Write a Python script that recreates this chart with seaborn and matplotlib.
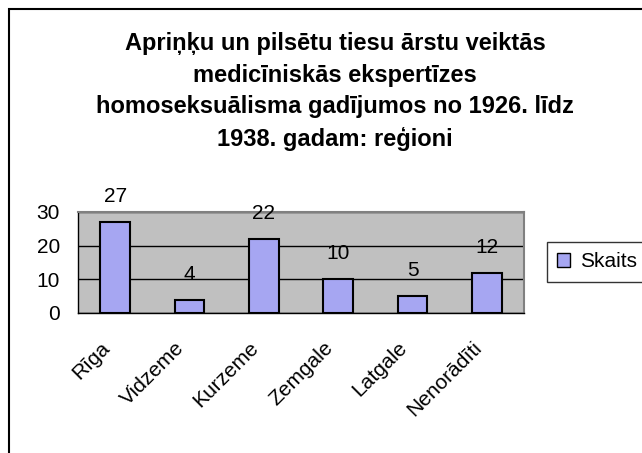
import matplotlib
matplotlib.use("Agg")
import matplotlib.pyplot as plt
import matplotlib.patches as mpatches
import matplotlib.transforms as mtransforms
import seaborn as sns
import pandas as pd

# data
regions = ["Rīga", "Vidzeme", "Kurzeme", "Zemgale", "Latgale", "Nenorādīti"]
counts = [27, 4, 22, 10, 5, 12]
series_name = "Skaits"
title = ("Apriņķu un pilsētu tiesu ārstu veiktās\n"
         "medicīniskās ekspertīzes\n"
         "homoseksuālisma gadījumos no 1926. līdz\n"
         "1938. gadam: reģioni")
y_ticks = [0, 10, 20, 30]

sns.set_style("white")
plt.rcParams['font.family'] = ['Liberation Sans', 'DejaVu Sans']
plt.rcParams['text.color'] = 'black'
plt.rcParams['xtick.color'] = 'black'
plt.rcParams['ytick.color'] = 'black'

df = pd.DataFrame({"region": regions, "count": counts, "series": series_name})

W, H = 642, 453
fig = plt.figure(figsize=(W / 100, H / 100), dpi=100)

# outer chart border (cropped at right/bottom in the reference)
fig.patches.append(mpatches.Rectangle((9 / W, -0.1), 1.2, 1 - 9 / H + 0.1,
                                      transform=fig.transFigure, fill=False,
                                      edgecolor="black", linewidth=1.5))

ax = fig.add_axes([78 / W, 1 - 313 / H, (524 - 78) / W, (313 - 212) / H])
ax.set_facecolor("#C0C0C0")

sns.barplot(data=df, x="region", y="count", hue="series", palette=["#9999FF"],
            width=0.4, edgecolor="black", linewidth=1.5, ax=ax, zorder=3)

ax.set_ylim(0, 30)
ax.set_xlim(-0.5, len(regions) - 0.5)
ax.set_yticks(y_ticks)
ax.yaxis.grid(True, color="black", linewidth=1, zorder=1)
ax.set_axisbelow(True)
ax.set_xlabel("")
ax.set_ylabel("")

# category boundary ticks on x
ax.set_xticks([i - 0.5 for i in range(len(regions) + 1)], minor=True)
ax.tick_params(axis="x", which="minor", length=7, width=1, color="black", direction="out")
ax.tick_params(axis="x", which="major", length=0, pad=18)
ax.tick_params(axis="y", length=6, width=1, color="black", direction="out", pad=7, labelsize=15)
ax.set_xticks(range(len(regions)))
ax.set_xticklabels(regions, rotation=45, ha="right", rotation_mode="anchor", fontsize=15)
shift = mtransforms.ScaledTranslation(-15 / 100, 0, fig.dpi_scale_trans)
for lbl in ax.get_xticklabels():
    lbl.set_transform(lbl.get_transform() + shift)

for s in ["left", "bottom"]:
    ax.spines[s].set_color("black")
    ax.spines[s].set_linewidth(1)
for s in ["top", "right"]:
    ax.spines[s].set_color("#808080")
    ax.spines[s].set_linewidth(1.5)

# value labels above bars
for i, v in enumerate(counts):
    ax.annotate(str(v), (i, v), xytext=(0, 20), textcoords="offset pixels",
                ha="center", va="baseline", fontsize=15)

fig.text(335 / W, 1 - 32 / H, title, ha="center", va="top",
         fontsize=17, fontweight="bold", linespacing=1.48)

leg = ax.legend(loc="upper left", bbox_to_anchor=(547 / W, 1 - 242 / H),
                bbox_transform=fig.transFigure, frameon=True, fancybox=False,
                fontsize=15, handlelength=0.6, handleheight=0.6, handletextpad=0.5,
                borderpad=0.5, borderaxespad=0)
leg.get_frame().set_edgecolor("black")
leg.get_frame().set_linewidth(1)
for h in leg.legend_handles:
    h.set_edgecolor("black")
    h.set_linewidth(1)

fig.savefig("out.png", dpi=100)
